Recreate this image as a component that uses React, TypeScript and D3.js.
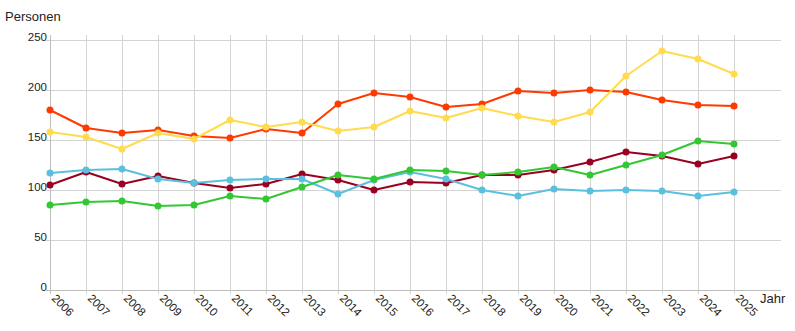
import React from "react";
import * as d3 from "d3";

const years = [2006, 2007, 2008, 2009, 2010, 2011, 2012, 2013, 2014, 2015, 2016, 2017, 2018, 2019, 2020, 2021, 2022, 2023, 2024, 2025];
const yTicks = [0, 50, 100, 150, 200, 250];

const seriesRed = [180, 162, 157, 160, 154, 152, 161, 157, 186, 197, 193, 183, 186, 199, 197, 200, 198, 190, 185, 184];
const seriesYellow = [158, 153, 141, 157, 151, 170, 163, 168, 159, 163, 179, 172, 182, 174, 168, 178, 214, 239, 231, 216];
const seriesCyan = [117, 120, 121, 111, 107, 110, 111, 111, 96, 110, 118, 111, 100, 94, 101, 99, 100, 99, 94, 98];
const seriesDarkRed = [105, 118, 106, 114, 107, 102, 106, 116, 110, 100, 108, 107, 115, 115, 120, 128, 138, 134, 126, 134];
const seriesGreen = [85, 88, 89, 84, 85, 94, 91, 103, 115, 111, 120, 119, 115, 118, 123, 115, 125, 135, 149, 146];

const series = [
  { name: "darkred", color: "#990022", values: seriesDarkRed },
  { name: "red", color: "#ff3a00", values: seriesRed },
  { name: "yellow", color: "#ffdb4d", values: seriesYellow },
  { name: "cyan", color: "#5bc0de", values: seriesCyan },
  { name: "green", color: "#33c733", values: seriesGreen },
];

export default function App() {
  const W = 795, H = 331;
  const left = 50, step = 36;
  const x = d3.scaleLinear().domain([2006, 2025]).range([left, left + step * 19]);
  const y = d3.scaleLinear().domain([0, 250]).range([290, 40]);
  const xEnd = 781;
  const line = d3.line<number>().x((_, i) => x(years[i])).y((d) => y(d));
  const font = "Liberation Sans, Arial, sans-serif";

  return (
    <svg width={W} height={H} style={{ position: "absolute", left: 0, top: 0, background: "#fff" }} fontFamily={font}>
      {yTicks.map((t) => (
        <line key={"h" + t} x1={46} x2={xEnd} y1={y(t)} y2={y(t)} stroke="#d4d4d4" strokeWidth={1} shapeRendering="crispEdges" />
      ))}
      {years.map((yr) => (
        <line key={"v" + yr} x1={x(yr)} x2={x(yr)} y1={35} y2={294} stroke="#d4d4d4" strokeWidth={1} shapeRendering="crispEdges" />
      ))}
      <line x1={x(2006)} x2={x(2006)} y1={35} y2={294} stroke="#bdbdbd" shapeRendering="crispEdges" />
      <line x1={46} x2={xEnd} y1={y(0)} y2={y(0)} stroke="#bdbdbd" shapeRendering="crispEdges" />
      {yTicks.map((t) => (
        <text key={"yl" + t} x={47} y={y(t) + 1} textAnchor="end" fontSize={11.5} fill="#222">
          {t}
        </text>
      ))}
      {years.map((yr) => (
        <text
          key={"xl" + yr}
          transform={`translate(${x(yr) + 1},${299}) rotate(45)`}
          fontSize={11.5}
          fill="#222"
          textAnchor="start"
        >
          {yr}
        </text>
      ))}
      <text x={5} y={21} fontSize={13} fill="#222">Personen</text>
      <text x={760} y={303} fontSize={13} fill="#222">Jahr</text>
      {series.map((s) => (
        <g key={s.name}>
          <path d={line(s.values) || ""} fill="none" stroke={s.color} strokeWidth={2} strokeLinejoin="round" />
          {s.values.map((v, i) => (
            <circle key={i} cx={x(years[i])} cy={y(v)} r={3.5} fill={s.color} />
          ))}
        </g>
      ))}
    </svg>
  );
}
